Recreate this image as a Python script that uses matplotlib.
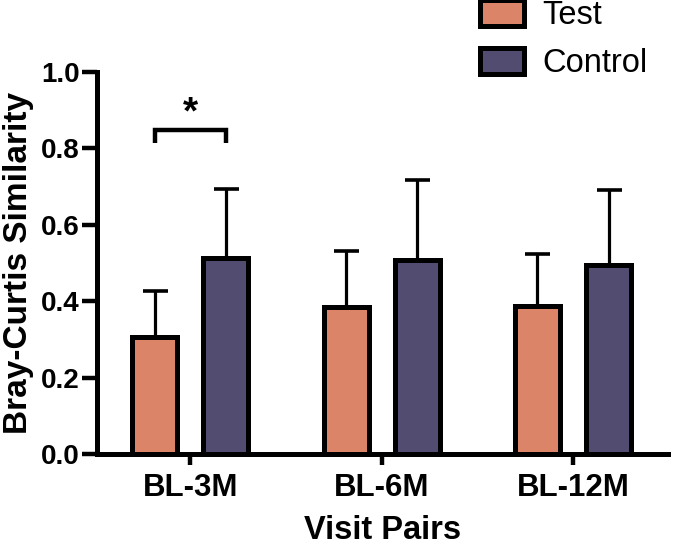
import matplotlib
matplotlib.use("Agg")
import matplotlib.pyplot as plt
import numpy as np
from matplotlib.patches import Patch

categories = ["BL-3M", "BL-6M", "BL-12M"]
test_mean = [0.306, 0.385, 0.387]
test_err = [0.121, 0.146, 0.137]
control_mean = [0.512, 0.507, 0.495]
control_err = [0.182, 0.210, 0.197]
series_names = ["Test", "Control"]
yticks = [0.0, 0.2, 0.4, 0.6, 0.8, 1.0]

plt.rcParams['font.family'] = ['Liberation Sans', 'DejaVu Sans']

c_test = "#DB8468"
c_ctrl = "#514C70"

fig = plt.figure(figsize=(6.75, 5.46), dpi=100)
ax = fig.add_axes([97/675, 1-454/546, (668-97)/675, (454-72)/546])

x = np.arange(len(categories))
off = 0.186
w = 0.235
lw_edge = 3.6

for xs, m, e, col in [(x - off, test_mean, test_err, c_test), (x + off, control_mean, control_err, c_ctrl)]:
    ax.errorbar(xs, m, yerr=[np.zeros(len(m)), e], fmt='none', ecolor='black',
                elinewidth=2.3, capsize=9, capthick=2.6, zorder=2)
    ax.bar(xs, m, width=w, color=col, edgecolor='black', linewidth=lw_edge, zorder=3)

ax.set_xlim(-0.487, 2.496)
ax.set_ylim(0, 1.0)
ax.set_yticks(yticks)
ax.set_yticklabels([f"{t:.1f}" for t in yticks], fontsize=20, fontweight='bold')
ax.set_xticks(x)
ax.set_xticklabels(categories, fontsize=22.5, fontweight='bold')
ax.tick_params(axis='y', length=11, width=3.2, pad=1.5)
ax.tick_params(axis='x', length=8, width=3.2, pad=6)
for s in ['top', 'right']:
    ax.spines[s].set_visible(False)
for s in ['left', 'bottom']:
    ax.spines[s].set_linewidth(3.6)
    ax.spines[s].set_zorder(5)

ax.set_ylabel("Bray-Curtis Similarity", fontsize=24, fontweight='bold', labelpad=5)
ax.set_xlabel("Visit Pairs", fontsize=23.5, fontweight='bold', labelpad=8)

# significance bracket
x0, x1 = x[0] - off, x[0] + off
ax.plot([x0, x0, x1, x1], [0.814, 0.848, 0.848, 0.814], color='black', lw=3.2,
        solid_capstyle='butt', solid_joinstyle='miter', clip_on=False, zorder=4)
ax.text(x[0], 0.845, "*", ha='center', va='bottom', fontsize=28, fontweight='bold')

handles = [Patch(facecolor=c_test, edgecolor='black', linewidth=3.6),
           Patch(facecolor=c_ctrl, edgecolor='black', linewidth=3.6)]
fig.legend(handles, series_names, loc='upper left', bbox_to_anchor=(480/675, 1.0),
           frameon=False, fontsize=23.5, handlelength=1.35, handleheight=0.85,
           handletextpad=0.55, labelspacing=0.5, borderpad=0.0, borderaxespad=0)

fig.savefig("out.png", dpi=100)
